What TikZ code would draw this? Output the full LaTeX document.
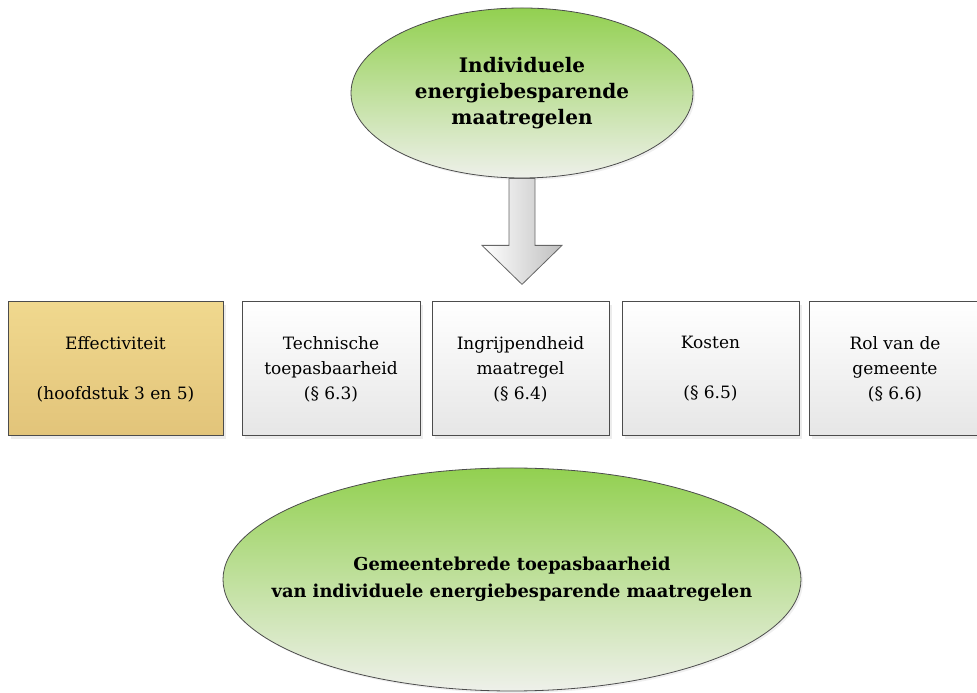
\documentclass[tikz,border=0pt]{standalone}
\usepackage{fontspec}
\setmainfont{DejaVu Serif}
\usetikzlibrary{shapes.geometric, shadows, calc}

\definecolor{ovalgreen}{RGB}{146,208,80}
\definecolor{ovalpale}{RGB}{238,240,234}
\definecolor{sandtop}{RGB}{240,216,142}
\definecolor{sandbot}{RGB}{226,196,122}
\definecolor{boxgrey}{RGB}{230,230,230}

\begin{document}
\begin{tikzpicture}[
        x=1pt, y=1pt,
        oval/.style={
            ellipse,
            draw=black!70,
            line width=0.8pt,
            top color=ovalgreen,
            bottom color=ovalpale,
            inner sep=0pt,
            drop shadow={shadow xshift=2pt, shadow yshift=-2pt, fill=black!12}
        },
        ovaltext/.style={
            align=center,
            font=\bfseries\fontsize{20}{26}\selectfont
        },
        factor/.style={
            rectangle,
            draw=black!70,
            line width=1pt,
            top color=white,
            bottom color=boxgrey,
            minimum height=134pt,
            align=center,
            font=\fontsize{17}{25}\selectfont,
            drop shadow={shadow xshift=3pt, shadow yshift=-3pt, fill=black!15}
        },
        mainfactor/.style={factor, top color=sandtop, bottom color=sandbot},
        bigarrow/.style={
            draw=black!60,
            line width=0.8pt,
            left color=white,
            right color=black!25
        }
    ]
    \useasboundingbox (0,0) rectangle (977,693);

    % Source (top)
    \node[oval, minimum width=342pt, minimum height=170pt,
          label={[ovaltext]center:Individuele\\energiebesparende\\maatregelen}]
          (source) at (522,600) {};

    % Factors (middle row)
    \node[mainfactor, minimum width=215pt] (effect) at (115.5,324)
          {Effectiviteit\\\strut\\(hoofdstuk 3 en 5)};
    \node[factor, minimum width=178pt] (techn) at (331,324)
          {Technische\\toepasbaarheid\\(§ 6.3)};
    \node[factor, minimum width=177pt] (impact) at (520.5,324)
          {Ingrijpendheid\\maatregel\\(§ 6.4)};
    \node[factor, minimum width=177pt] (costs) at (710.5,324)
          {Kosten\\\strut\\(§ 6.5)};
    \node[factor, minimum width=172pt] (role) at (895,324)
          {Rol van de\\gemeente\\(§ 6.6)};

    % Result (bottom)
    \node[oval, minimum width=578pt, minimum height=223pt,
          label={[ovaltext, font=\bfseries\fontsize{17.8}{27}\selectfont]center:Gemeentebrede toepasbaarheid\\van individuele energiebesparende maatregelen}]
          (result) at (512,113.5) {};

    % Block arrow: source -> factors
    \draw[bigarrow] ($(source.south)+(-13,0)$) -- ++(0,-67) -- ++(-27,0)
        -- ($(source.south)+(0,-106)$) -- ($(source.south)+(40,-67)$)
        -- ++(-27,0) -- ($(source.south)+(13,0)$) -- cycle;

\end{tikzpicture}
\end{document}
